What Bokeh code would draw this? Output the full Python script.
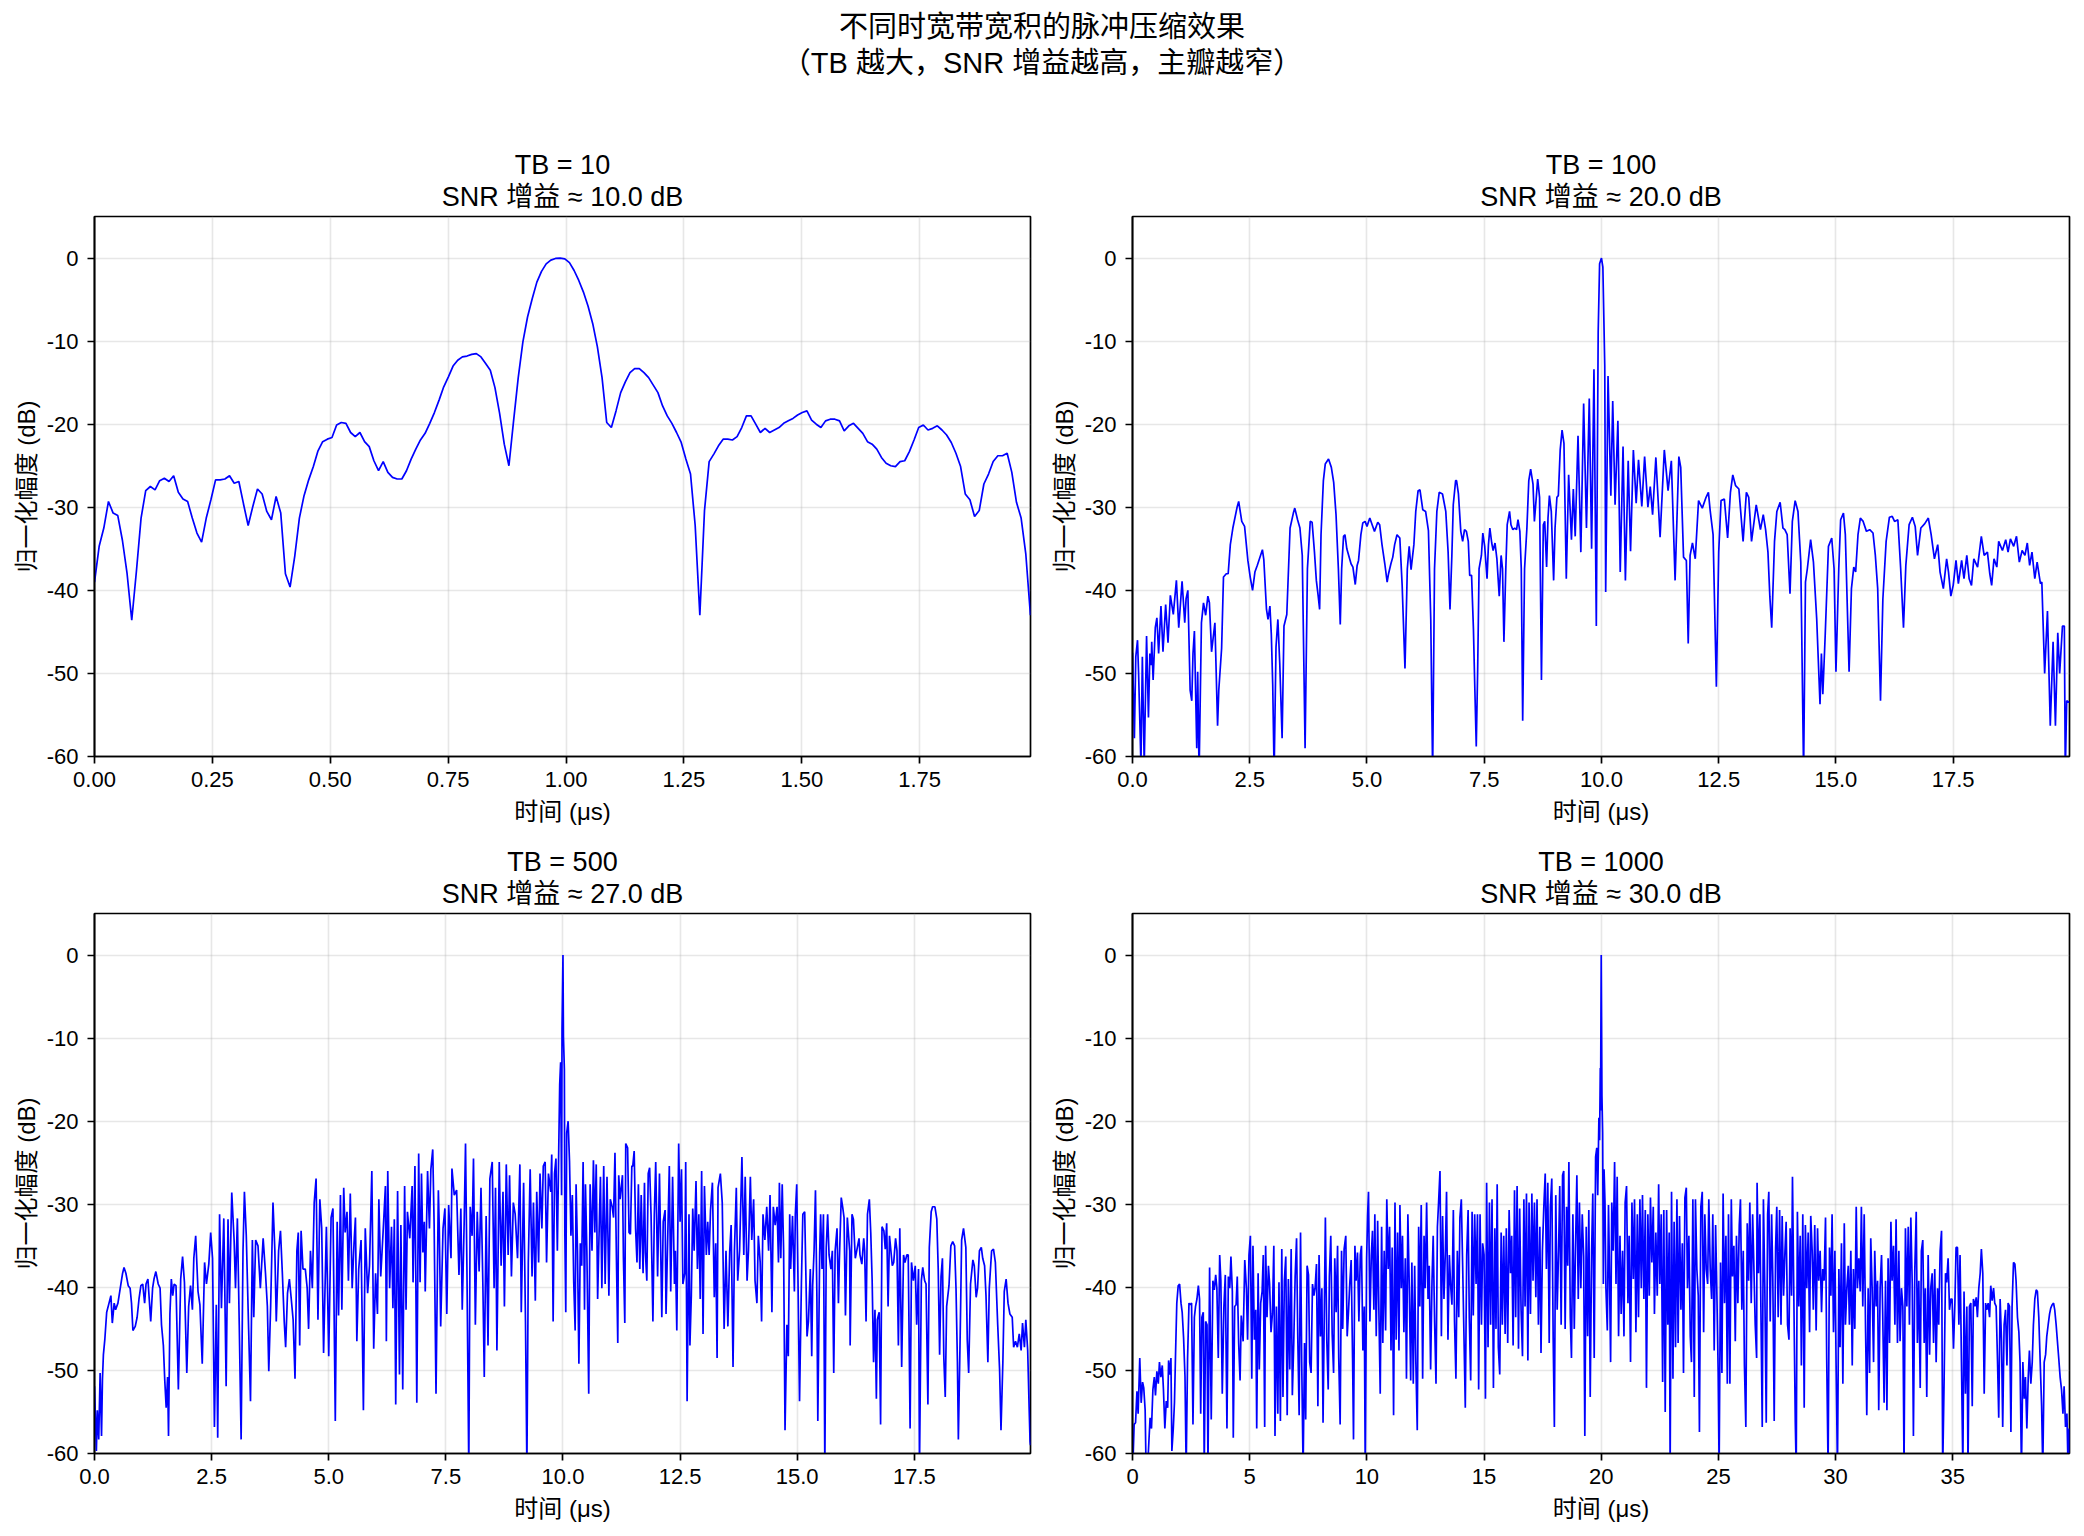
from bokeh.plotting import figure
from bokeh.layouts import column, row
from bokeh.models import Div, Range1d, FixedTicker, NumeralTickFormatter, Title
from bokeh.embed import file_html
from bokeh.resources import INLINE

FONT = "'Liberation Sans', 'Noto Sans CJK SC', sans-serif"

SUPTITLE_1 = "不同时宽带宽积的脉冲压缩效果"
SUPTITLE_2 = "（TB 越大，SNR 增益越高，主瓣越窄）"
XLABEL = "时间 (μs)"
YLABEL = "归一化幅度 (dB)"

TB_LABELS = ["TB = 10", "TB = 100", "TB = 500", "TB = 1000"]
GAIN_LABELS = ["SNR 增益 ≈ 10.0 dB", "SNR 增益 ≈ 20.0 dB", "SNR 增益 ≈ 27.0 dB", "SNR 增益 ≈ 30.0 dB"]

Y_TICKS = [-60, -50, -40, -30, -20, -10, 0]
X_TICKS_TB10 = [0.0, 0.25, 0.5, 0.75, 1.0, 1.25, 1.5, 1.75]
X_TICKS_TB100 = [0.0, 2.5, 5.0, 7.5, 10.0, 12.5, 15.0, 17.5]
X_TICKS_TB500 = [0.0, 2.5, 5.0, 7.5, 10.0, 12.5, 15.0, 17.5]
X_TICKS_TB1000 = [0, 5, 10, 15, 20, 25, 30, 35]
X_END = [1.985, 19.98, 19.98, 39.98]

tb10_dt = 0.009875
tb10_db = [
    -39.0, -34.7, -32.5, -29.3, -30.7, -31.0, -34.0, -38.0, -43.6, -37.7,
    -31.3, -28.0, -27.5, -27.9, -26.8, -26.5, -26.9, -26.2, -28.2, -29.0,
    -29.3, -31.3, -33.1, -34.2, -31.3, -29.1, -26.7, -26.7, -26.6, -26.2,
    -27.1, -26.9, -29.6, -32.2, -29.9, -27.8, -28.4, -30.5, -31.5, -28.7,
    -30.7, -38.0, -39.6, -35.9, -31.3, -28.6, -26.7, -25.1, -23.2, -22.1,
    -21.8, -21.6, -20.1, -19.8, -19.9, -21.0, -21.5, -21.0, -22.1, -22.7,
    -24.4, -25.6, -24.5, -25.8, -26.4, -26.6, -26.6, -25.6, -24.2, -23.0,
    -21.9, -21.1, -19.9, -18.6, -17.1, -15.5, -14.3, -13.0, -12.3, -11.9,
    -11.8, -11.6, -11.5, -11.9, -12.7, -13.5, -15.6, -18.7, -22.4, -25.0,
    -19.6, -14.4, -10.1, -7.1, -4.9, -2.9, -1.6, -0.7, -0.25, -0.05,
    0.0, -0.1, -0.55, -1.5, -2.7, -4.1, -5.8, -7.9, -10.7, -14.4,
    -19.8, -20.4, -18.4, -16.2, -14.9, -13.8, -13.3, -13.3, -13.8, -14.4,
    -15.3, -16.2, -17.8, -19.0, -19.9, -21.0, -22.2, -24.2, -26.0, -32.2,
    -43.0, -30.4, -24.5, -23.6, -22.6, -21.8, -21.8, -21.9, -21.5, -20.4,
    -19.0, -19.0, -20.0, -21.0, -20.5, -21.0, -20.7, -20.4, -19.9, -19.6,
    -19.3, -18.9, -18.6, -18.4, -19.5, -20.0, -20.4, -19.6, -19.4, -19.4,
    -19.6, -20.8, -20.2, -19.9, -20.5, -21.1, -22.1, -22.4, -23.0, -24.0,
    -24.7, -25.0, -25.1, -24.5, -24.4, -23.3, -21.9, -20.4, -20.1, -20.7,
    -20.5, -20.2, -20.7, -21.3, -22.2, -23.5, -25.1, -28.4, -29.1, -31.1,
    -30.4, -27.2, -26.0, -24.5, -23.8, -23.8, -23.5, -25.8, -29.4, -31.3,
    -35.6, -43.0,
]

# TB = 100 : (time µs, dB)
tb100_points = [
    (0.00, -47.5), (0.04, -57.8), (0.07, -48.0), (0.107, -46.0), (0.13, -50.0), (0.18, -61), (0.21, -48.0),
    (0.25, -61), (0.30, -45.5), (0.34, -55.3), (0.37, -47.6), (0.40, -49.0), (0.41, -46.2), (0.44, -50.8),
    (0.486, -44.5), (0.52, -43.3), (0.557, -47.6), (0.607, -41.9), (0.65, -47.4), (0.707, -41.7), (0.757, -46.3),
    (0.807, -40.6), (0.87, -42.9), (0.936, -38.8), (0.986, -44.5), (1.057, -38.9), (1.114, -43.9), (1.143, -41.0),
    (1.18, -40.0), (1.229, -52.0), (1.264, -53.3), (1.29, -47.6), (1.32, -44.9), (1.37, -59.0), (1.39, -49.8),
    (1.42, -62), (1.47, -43.9), (1.514, -41.5), (1.56, -43.0), (1.607, -40.7), (1.64, -41.5), (1.686, -47.4),
    (1.757, -43.9), (1.814, -56.3), (1.84, -52.0), (1.90, -47.0), (1.94, -38.4), (2.00, -38.0), (2.04, -38.0),
    (2.086, -34.5), (2.14, -32.5), (2.23, -30.0), (2.264, -29.3), (2.33, -31.7), (2.39, -32.3), (2.46, -36.4),
    (2.51, -38.4), (2.56, -40.0), (2.61, -37.8), (2.66, -37.0), (2.73, -35.8), (2.77, -35.1), (2.80, -36.3),
    (2.857, -42.3), (2.89, -43.5), (2.93, -41.9), (2.96, -45.3), (2.99, -51.4), (3.02, -62), (3.06, -46.8),
    (3.10, -43.5), (3.14, -48.8), (3.19, -57.8), (3.23, -44.3), (3.29, -42.9), (3.36, -32.5), (3.43, -30.7),
    (3.46, -30.1), (3.52, -31.5), (3.57, -32.5), (3.62, -35.8), (3.68, -59.0), (3.73, -37.4), (3.79, -31.7),
    (3.83, -31.8), (3.88, -35.4), (3.92, -38.8), (3.96, -40.7), (3.99, -42.3), (4.02, -33.3), (4.07, -26.8),
    (4.11, -24.8), (4.18, -24.2), (4.24, -25.2), (4.29, -27.0), (4.34, -30.9), (4.39, -37.4), (4.43, -44.1),
    (4.46, -37.4), (4.50, -33.5), (4.53, -33.3), (4.57, -35.0), (4.61, -35.8), (4.66, -36.8), (4.70, -37.2),
    (4.75, -39.3), (4.79, -37.0), (4.82, -36.4), (4.87, -33.3), (4.91, -31.9), (4.96, -31.7), (5.00, -32.3),
    (5.06, -31.3), (5.11, -32.1), (5.16, -32.9), (5.23, -31.8), (5.27, -32.1), (5.32, -34.5), (5.38, -36.8),
    (5.43, -39.0), (5.46, -38.0), (5.51, -36.8), (5.55, -36.0), (5.59, -34.5), (5.64, -33.3), (5.70, -33.7),
    (5.75, -39.4), (5.81, -49.4), (5.86, -37.4), (5.90, -34.7), (5.94, -37.5), (6.00, -34.5), (6.04, -30.5),
    (6.09, -28.0), (6.13, -27.9), (6.19, -30.3), (6.25, -30.5), (6.31, -32.8), (6.36, -43.5), (6.40, -62),
    (6.44, -37.4), (6.49, -30.5), (6.54, -28.2), (6.61, -28.4), (6.68, -30.5), (6.73, -35.4), (6.77, -42.3),
    (6.81, -35.8), (6.84, -29.7), (6.89, -26.8), (6.91, -26.8), (6.95, -28.4), (7.00, -32.9), (7.04, -34.1),
    (7.08, -32.7), (7.12, -32.9), (7.16, -34.1), (7.19, -38.2), (7.23, -38.2), (7.27, -44.7), (7.29, -49.6),
    (7.33, -58.8), (7.36, -49.6), (7.39, -37.4), (7.44, -35.8), (7.47, -33.1), (7.51, -34.7), (7.56, -38.6),
    (7.59, -34.5), (7.62, -32.5), (7.66, -34.3), (7.69, -35.2), (7.73, -34.3), (7.77, -36.2), (7.82, -40.7),
    (7.86, -35.8), (7.89, -37.4), (7.92, -46.2), (7.96, -37.4), (7.99, -32.1), (8.04, -30.5), (8.07, -32.1),
    (8.11, -32.7), (8.15, -32.5), (8.19, -32.7), (8.22, -31.5), (8.26, -32.9), (8.29, -37.4), (8.32, -55.7),
    (8.36, -37.4), (8.41, -32.5), (8.45, -26.8), (8.49, -25.4), (8.54, -27.2), (8.57, -31.7), (8.61, -28.8),
    (8.64, -26.6), (8.68, -28.8), (8.72, -50.8), (8.76, -32.1), (8.79, -31.7), (8.83, -37.2), (8.86, -31.3),
    (8.89, -28.6), (8.93, -30.5), (8.98, -38.8), (9.01, -32.5), (9.05, -28.8), (9.08, -28.6), (9.12, -23.1),
    (9.16, -20.7), (9.20, -22.3), (9.25, -38.6), (9.30, -26.1), (9.36, -33.9), (9.40, -27.8), (9.44, -33.5),
    (9.50, -21.4), (9.56, -35.4), (9.62, -17.5), (9.68, -32.5), (9.74, -16.9), (9.79, -35.0), (9.84, -13.4),
    (9.89, -44.3), (9.93, -8.9), (9.96, -0.7), (10.0, 0.0), (10.03, -1.1), (10.07, -13.0), (10.09, -40.2),
    (10.14, -14.2), (10.20, -28.6), (10.24, -17.2), (10.29, -29.7), (10.35, -19.6), (10.40, -37.8), (10.46, -22.7),
    (10.51, -38.8), (10.57, -24.4), (10.62, -35.3), (10.68, -23.1), (10.74, -29.5), (10.79, -24.3), (10.86, -29.9),
    (10.92, -23.9), (10.99, -30.0), (11.04, -27.5), (11.09, -30.9), (11.16, -24.0), (11.25, -33.6), (11.34, -23.1),
    (11.42, -28.0), (11.49, -24.4), (11.57, -38.8), (11.65, -23.9), (11.69, -25.2), (11.75, -36.0), (11.81, -36.4),
    (11.85, -46.4), (11.89, -35.8), (11.94, -34.3), (12.00, -36.2), (12.07, -29.2), (12.15, -30.1), (12.23, -28.8),
    (12.28, -28.2), (12.32, -30.5), (12.38, -33.3), (12.45, -51.6), (12.50, -35.4), (12.55, -29.2), (12.62, -29.0),
    (12.69, -33.7), (12.75, -28.2), (12.80, -26.1), (12.86, -27.4), (12.93, -27.8), (13.02, -34.1), (13.09, -28.2),
    (13.14, -28.8), (13.20, -34.1), (13.30, -29.7), (13.39, -32.7), (13.45, -30.9), (13.50, -32.7), (13.55, -35.4),
    (13.59, -40.7), (13.63, -44.5), (13.69, -34.1), (13.74, -30.5), (13.81, -29.4), (13.87, -32.5), (13.91, -32.7),
    (13.96, -33.3), (14.02, -40.4), (14.07, -31.7), (14.13, -29.2), (14.19, -30.5), (14.25, -36.6), (14.31, -62),
    (14.35, -39.0), (14.39, -37.4), (14.46, -33.9), (14.52, -36.6), (14.59, -43.5), (14.66, -53.7), (14.69, -47.6),
    (14.72, -52.5), (14.77, -45.5), (14.84, -34.7), (14.91, -33.7), (14.96, -37.4), (15.00, -49.8), (15.06, -37.4),
    (15.10, -31.5), (15.16, -30.7), (15.20, -33.3), (15.28, -49.8), (15.33, -39.8), (15.38, -37.2), (15.42, -37.8),
    (15.47, -33.3), (15.52, -31.3), (15.58, -31.7), (15.65, -32.9), (15.72, -32.7), (15.79, -33.1), (15.84, -35.8),
    (15.89, -39.8), (15.95, -53.3), (16.00, -41.1), (16.07, -34.1), (16.14, -31.2), (16.20, -31.1), (16.25, -31.7),
    (16.32, -31.5), (16.38, -37.4), (16.44, -44.5), (16.49, -37.0), (16.56, -32.1), (16.63, -31.2), (16.69, -32.3),
    (16.74, -35.8), (16.81, -32.5), (16.89, -32.0), (16.97, -31.3), (17.03, -33.3), (17.10, -36.2), (17.17, -34.5),
    (17.22, -37.8), (17.29, -39.8), (17.36, -36.2), (17.40, -37.8), (17.45, -40.7), (17.50, -39.4), (17.56, -36.4),
    (17.61, -39.2), (17.68, -36.4), (17.73, -38.6), (17.79, -35.8), (17.84, -38.6), (17.89, -39.4), (17.94, -36.2),
    (18.02, -37.2), (18.10, -33.5), (18.16, -35.8), (18.23, -35.4), (18.28, -38.0), (18.32, -39.4), (18.37, -36.2),
    (18.43, -37.2), (18.47, -34.1), (18.55, -35.2), (18.62, -33.9), (18.67, -35.4), (18.72, -33.8), (18.79, -34.7),
    (18.85, -33.5), (18.91, -36.6), (18.97, -35.2), (19.03, -35.8), (19.08, -34.3), (19.13, -37.0), (19.18, -35.4),
    (19.24, -38.6), (19.29, -36.6), (19.36, -39.2), (19.39, -39.0), (19.45, -50.0), (19.51, -42.5), (19.57, -56.3),
    (19.63, -46.2), (19.68, -56.3), (19.73, -45.1), (19.77, -50.0), (19.83, -44.3), (19.87, -44.3), (19.89, -62),
    (19.92, -53.3), (19.98, -53.5),
]

# TB = 500 : (time µs, dB)
tb500_points = [
    (0.00, -51.9), (0.04, -59.7), (0.06, -54.8), (0.09, -58.3), (0.12, -50.3), (0.15, -57.9), (0.17, -51.0),
    (0.19, -48.1), (0.22, -46.3), (0.26, -43.0), (0.31, -41.9), (0.35, -41.0), (0.38, -44.3), (0.42, -41.9),
    (0.45, -42.7), (0.50, -41.9), (0.55, -40.1), (0.60, -38.3), (0.63, -37.6), (0.67, -38.3), (0.72, -39.8),
    (0.76, -40.1), (0.79, -41.9), (0.82, -45.2), (0.87, -44.7), (0.91, -43.6), (0.95, -41.4), (0.99, -39.8),
    (1.03, -39.6), (1.07, -41.9), (1.10, -39.6), (1.14, -39.0), (1.20, -44.1), (1.24, -40.1), (1.27, -39.0),
    (1.31, -38.1), (1.36, -39.6), (1.40, -40.1), (1.43, -44.5), (1.47, -47.0), (1.50, -51.2), (1.53, -54.5),
    (1.56, -50.8), (1.58, -57.9), (1.61, -43.2), (1.64, -39.0), (1.67, -41.0), (1.70, -39.6), (1.74, -39.8),
    (1.79, -52.3), (1.84, -39.0), (1.88, -36.3), (1.92, -39.4), (1.97, -50.3), (2.01, -42.3), (2.05, -39.8),
    (2.09, -42.7), (2.12, -36.5), (2.16, -33.8), (2.21, -40.5), (2.25, -42.1), (2.30, -49.2), (2.35, -37.0),
    (2.39, -39.6), (2.44, -37.2), (2.48, -33.4), (2.52, -36.5), (2.56, -56.8), (2.60, -42.1), (2.63, -58.1),
    (2.67, -31.2), (2.71, -42.5), (2.76, -31.7), (2.81, -51.9), (2.85, -31.8), (2.88, -41.9), (2.93, -28.6),
    (2.98, -34.3), (3.01, -40.1), (3.05, -31.7), (3.09, -44.5), (3.13, -58.3), (3.17, -35.6), (3.20, -28.5),
    (3.24, -33.8), (3.29, -45.0), (3.33, -53.7), (3.37, -34.3), (3.40, -43.6), (3.44, -34.3), (3.49, -35.0),
    (3.54, -40.1), (3.60, -34.1), (3.65, -38.3), (3.69, -42.3), (3.72, -50.1), (3.76, -42.3), (3.81, -29.8),
    (3.85, -35.6), (3.88, -44.1), (3.93, -35.6), (3.97, -33.2), (4.01, -38.3), (4.05, -44.1), (4.08, -47.2),
    (4.12, -40.7), (4.16, -39.0), (4.20, -41.4), (4.24, -43.9), (4.28, -51.0), (4.32, -35.6), (4.35, -33.4),
    (4.38, -47.0), (4.41, -33.2), (4.45, -37.8), (4.50, -37.8), (4.54, -40.1), (4.57, -45.0), (4.61, -35.6),
    (4.65, -40.1), (4.69, -29.8), (4.73, -26.9), (4.77, -43.9), (4.81, -29.4), (4.85, -32.9), (4.89, -47.9),
    (4.95, -32.7), (5.00, -48.3), (5.05, -31.6), (5.09, -30.5), (5.14, -56.1), (5.18, -32.1), (5.21, -43.4),
    (5.25, -28.9), (5.28, -42.7), (5.32, -28.0), (5.35, -33.4), (5.39, -30.9), (5.42, -39.2), (5.46, -28.7),
    (5.50, -40.1), (5.54, -34.7), (5.57, -31.6), (5.60, -46.5), (5.64, -37.8), (5.69, -34.3), (5.74, -54.8),
    (5.78, -32.9), (5.83, -40.7), (5.87, -37.4), (5.92, -26.0), (5.96, -47.4), (6.00, -38.3), (6.04, -43.2),
    (6.07, -29.4), (6.11, -38.7), (6.16, -33.4), (6.21, -27.8), (6.23, -46.5), (6.26, -26.0), (6.30, -40.1),
    (6.34, -32.7), (6.37, -42.5), (6.40, -31.8), (6.43, -54.1), (6.47, -28.4), (6.51, -50.5), (6.54, -32.5),
    (6.58, -52.3), (6.62, -27.8), (6.65, -42.7), (6.68, -30.9), (6.73, -34.1), (6.78, -27.8), (6.80, -39.4),
    (6.84, -25.4), (6.88, -53.9), (6.92, -23.9), (6.95, -39.4), (6.98, -26.3), (7.01, -35.8), (7.04, -32.1),
    (7.06, -40.5), (7.11, -26.0), (7.15, -32.9), (7.18, -25.8), (7.22, -23.4), (7.25, -32.5), (7.29, -52.8),
    (7.34, -28.3), (7.36, -32.9), (7.39, -44.7), (7.44, -32.9), (7.48, -30.5), (7.52, -43.2), (7.56, -30.1),
    (7.61, -36.5), (7.63, -25.7), (7.68, -28.9), (7.73, -28.3), (7.78, -38.5), (7.82, -30.5), (7.85, -42.7),
    (7.89, -32.5), (7.92, -22.7), (7.95, -37.8), (7.99, -62.0), (8.02, -30.3), (8.06, -33.8), (8.09, -24.5),
    (8.13, -44.5), (8.17, -30.9), (8.21, -38.1), (8.25, -28.0), (8.29, -39.6), (8.32, -50.8), (8.36, -31.4),
    (8.40, -47.0), (8.44, -26.9), (8.49, -24.9), (8.53, -40.1), (8.56, -28.0), (8.59, -47.6), (8.64, -24.9),
    (8.68, -37.4), (8.72, -28.5), (8.75, -42.3), (8.79, -25.2), (8.83, -36.1), (8.86, -26.5), (8.90, -38.7),
    (8.94, -29.8), (8.98, -31.2), (9.03, -36.5), (9.08, -25.2), (9.11, -43.0), (9.16, -27.4), (9.20, -44.1),
    (9.23, -62.0), (9.26, -37.0), (9.30, -25.8), (9.34, -38.7), (9.37, -29.8), (9.41, -41.6), (9.44, -28.5),
    (9.48, -37.0), (9.51, -26.3), (9.55, -32.9), (9.58, -25.4), (9.62, -24.9), (9.65, -37.0), (9.69, -26.3),
    (9.74, -28.5), (9.76, -24.0), (9.79, -44.1), (9.82, -26.3), (9.85, -24.5), (9.88, -35.6), (9.91, -23.2),
    (9.93, -15.6), (9.95, -12.9), (9.97, -28.9), (9.98, -8.9), (10.00, 0.0), (10.01, -9.8), (10.03, -13.8),
    (10.04, -33.4), (10.06, -43.0), (10.08, -21.4), (10.11, -20.0), (10.14, -24.9), (10.17, -33.8), (10.20, -28.9),
    (10.23, -39.4), (10.26, -45.2), (10.28, -27.6), (10.31, -35.6), (10.34, -49.2), (10.37, -34.7), (10.40, -37.4),
    (10.43, -24.9), (10.46, -42.7), (10.48, -27.6), (10.51, -35.6), (10.55, -52.8), (10.58, -27.6), (10.62, -35.6),
    (10.65, -24.7), (10.68, -33.4), (10.71, -25.2), (10.74, -41.4), (10.78, -31.2), (10.80, -26.7), (10.83, -40.1),
    (10.87, -25.4), (10.90, -39.6), (10.94, -26.7), (10.98, -41.0), (11.01, -29.4), (11.05, -30.3), (11.08, -31.6),
    (11.11, -23.8), (11.14, -36.1), (11.17, -46.7), (11.19, -26.5), (11.22, -29.4), (11.27, -26.5), (11.29, -36.3),
    (11.32, -44.3), (11.34, -22.7), (11.38, -23.2), (11.41, -33.4), (11.44, -33.6), (11.47, -25.4), (11.49, -25.4),
    (11.52, -23.6), (11.55, -32.9), (11.58, -37.0), (11.61, -27.6), (11.64, -37.8), (11.67, -28.9), (11.71, -38.3),
    (11.74, -27.4), (11.76, -35.8), (11.79, -39.2), (11.82, -26.3), (11.85, -25.6), (11.88, -31.2), (11.92, -44.1),
    (11.95, -31.2), (11.98, -24.9), (12.02, -38.7), (12.06, -26.3), (12.11, -43.6), (12.14, -32.1), (12.18, -30.7),
    (12.20, -43.2), (12.23, -35.6), (12.27, -25.4), (12.30, -40.5), (12.34, -26.7), (12.38, -39.6), (12.40, -35.6),
    (12.43, -45.2), (12.47, -22.7), (12.50, -32.1), (12.53, -25.8), (12.56, -39.6), (12.60, -38.3), (12.62, -24.9),
    (12.65, -53.7), (12.69, -31.2), (12.71, -47.0), (12.74, -41.0), (12.77, -30.5), (12.80, -35.6), (12.84, -27.2),
    (12.87, -37.8), (12.90, -31.2), (12.93, -41.4), (12.96, -26.0), (12.99, -45.6), (13.02, -27.8), (13.06, -36.1),
    (13.09, -32.1), (13.12, -36.1), (13.15, -30.7), (13.19, -27.4), (13.23, -41.2), (13.26, -34.7), (13.29, -48.5),
    (13.31, -28.0), (13.36, -26.3), (13.40, -29.8), (13.44, -45.0), (13.48, -35.6), (13.52, -44.7), (13.56, -35.6),
    (13.59, -32.5), (13.63, -49.6), (13.66, -35.6), (13.70, -28.0), (13.73, -39.2), (13.77, -35.6), (13.82, -24.3),
    (13.86, -36.1), (13.89, -26.7), (13.93, -39.2), (13.96, -35.6), (14.00, -26.7), (14.03, -34.3), (14.07, -29.4),
    (14.10, -39.2), (14.14, -41.9), (14.17, -33.8), (14.21, -37.0), (14.24, -44.1), (14.27, -31.2), (14.31, -34.3),
    (14.35, -30.3), (14.39, -35.6), (14.42, -28.9), (14.46, -43.0), (14.49, -30.3), (14.53, -32.5), (14.57, -30.3),
    (14.60, -37.0), (14.62, -27.4), (14.65, -36.5), (14.68, -27.6), (14.71, -35.6), (14.74, -57.2), (14.78, -44.5),
    (14.81, -48.3), (14.84, -31.2), (14.86, -37.8), (14.90, -31.4), (14.94, -40.5), (14.96, -31.2), (14.99, -27.6),
    (15.02, -40.5), (15.05, -53.7), (15.09, -39.4), (15.12, -31.2), (15.16, -30.9), (15.21, -45.9), (15.24, -44.1),
    (15.28, -37.8), (15.31, -48.3), (15.33, -39.8), (15.36, -35.6), (15.39, -28.3), (15.42, -41.0), (15.44, -56.1),
    (15.48, -35.8), (15.50, -31.2), (15.53, -37.8), (15.56, -31.2), (15.59, -62.0), (15.62, -35.2), (15.65, -31.2),
    (15.68, -36.1), (15.72, -37.8), (15.75, -35.6), (15.78, -50.3), (15.81, -35.6), (15.85, -32.9), (15.88, -41.9),
    (15.90, -36.7), (15.94, -29.2), (15.97, -30.3), (16.00, -31.6), (16.03, -43.4), (16.07, -31.6), (16.12, -35.6),
    (16.13, -47.0), (16.17, -31.2), (16.20, -31.8), (16.24, -36.5), (16.27, -35.6), (16.32, -34.1), (16.34, -36.1),
    (16.38, -37.2), (16.42, -34.1), (16.44, -35.6), (16.47, -44.1), (16.50, -31.2), (16.54, -29.4), (16.57, -33.4),
    (16.60, -39.2), (16.63, -49.0), (16.66, -42.7), (16.69, -53.4), (16.71, -43.9), (16.75, -43.0), (16.78, -56.5),
    (16.81, -32.7), (16.85, -33.2), (16.88, -35.4), (16.91, -32.3), (16.94, -42.3), (16.97, -33.8), (17.00, -35.6),
    (17.03, -37.4), (17.06, -37.0), (17.10, -34.1), (17.13, -35.6), (17.16, -47.0), (17.19, -32.9), (17.23, -49.6),
    (17.27, -36.1), (17.30, -37.0), (17.34, -36.1), (17.37, -36.1), (17.41, -57.0), (17.44, -37.0), (17.48, -39.2),
    (17.52, -37.4), (17.55, -44.5), (17.59, -37.8), (17.61, -62.0), (17.65, -39.2), (17.68, -37.6), (17.72, -39.2),
    (17.75, -39.6), (17.79, -54.1), (17.82, -35.2), (17.86, -30.9), (17.89, -30.3), (17.94, -30.3), (17.98, -31.8),
    (18.01, -37.8), (18.04, -48.1), (18.07, -38.7), (18.10, -36.5), (18.13, -48.5), (18.16, -53.2), (18.19, -42.3),
    (18.24, -39.8), (18.28, -35.0), (18.32, -34.5), (18.36, -35.0), (18.39, -40.1), (18.42, -49.0), (18.44, -58.3),
    (18.48, -45.4), (18.51, -34.3), (18.55, -32.9), (18.60, -35.2), (18.63, -46.3), (18.66, -50.3), (18.70, -39.6),
    (18.75, -36.7), (18.78, -37.4), (18.82, -41.2), (18.85, -40.1), (18.89, -35.6), (18.93, -35.2), (18.96, -36.5),
    (19.00, -37.4), (19.03, -41.0), (19.07, -49.0), (19.10, -40.1), (19.15, -35.6), (19.19, -35.4), (19.23, -37.0),
    (19.28, -44.5), (19.32, -49.9), (19.35, -57.2), (19.39, -49.0), (19.42, -40.5), (19.46, -39.0), (19.50, -41.9),
    (19.54, -43.2), (19.59, -43.6), (19.62, -47.2), (19.66, -46.5), (19.70, -47.2), (19.74, -45.6), (19.78, -47.6),
    (19.81, -44.3), (19.85, -47.2), (19.88, -43.9), (19.92, -47.6), (19.95, -54.3), (19.97, -58.5), (19.98, -59.0),
]

# TB = 1000 : (time µs, dB)
tb1000_points = [
    (0.01, -62), (0.07, -56.5), (0.13, -56.3), (0.19, -52.5), (0.24, -55.2), (0.31, -48.5), (0.37, -53.9),
    (0.43, -51.4), (0.48, -52.1), (0.54, -54.8), (0.58, -62), (0.64, -62), (0.70, -58.5), (0.75, -55.7),
    (0.81, -57.0), (0.87, -52.3), (0.93, -50.8), (0.98, -53.0), (1.04, -50.1), (1.10, -51.6), (1.15, -49.0),
    (1.21, -50.8), (1.27, -49.4), (1.32, -52.3), (1.38, -57.0), (1.44, -53.7), (1.50, -54.5), (1.54, -48.8),
    (1.60, -50.5), (1.64, -48.5), (1.68, -59.7), (1.74, -57.0), (1.79, -53.9), (1.84, -47.6), (1.89, -41.9),
    (1.95, -39.8), (2.01, -39.6), (2.07, -41.9), (2.12, -43.0), (2.18, -46.1), (2.24, -50.8), (2.29, -62),
    (2.35, -48.5), (2.41, -41.9), (2.46, -42.1), (2.52, -41.9), (2.58, -56.5), (2.64, -43.6), (2.69, -42.3),
    (2.75, -41.4), (2.81, -39.8), (2.86, -41.4), (2.91, -55.2), (2.96, -43.6), (3.02, -43.0), (3.06, -62),
    (3.12, -44.1), (3.18, -44.5), (3.22, -62), (3.29, -37.6), (3.36, -55.9), (3.43, -39.2), (3.49, -40.3),
    (3.55, -38.5), (3.60, -40.1), (3.66, -48.5), (3.72, -36.1), (3.77, -39.2), (3.83, -52.8), (3.90, -42.3),
    (3.96, -38.5), (4.03, -57.0), (4.09, -38.7), (4.15, -40.1), (4.20, -36.3), (4.26, -40.5), (4.30, -58.1),
    (4.36, -42.3), (4.42, -42.1), (4.47, -38.7), (4.53, -46.7), (4.59, -51.2), (4.64, -43.4), (4.72, -46.5),
    (4.79, -36.7), (4.86, -40.1), (4.91, -46.3), (4.97, -36.1), (5.03, -33.8), (5.09, -51.0), (5.14, -35.0),
    (5.20, -46.3), (5.26, -42.7), (5.30, -57.0), (5.36, -38.3), (5.41, -49.9), (5.47, -41.9), (5.53, -40.5),
    (5.58, -36.1), (5.64, -56.8), (5.68, -35.0), (5.74, -43.6), (5.80, -37.4), (5.85, -39.6), (5.91, -45.4),
    (5.97, -43.2), (6.03, -35.0), (6.08, -57.9), (6.14, -42.3), (6.20, -55.2), (6.25, -39.4), (6.31, -56.1),
    (6.37, -35.4), (6.42, -53.2), (6.48, -39.2), (6.54, -36.3), (6.60, -55.4), (6.65, -39.0), (6.71, -49.9),
    (6.77, -35.4), (6.82, -53.0), (6.88, -46.7), (6.94, -38.7), (7.00, -34.1), (7.05, -45.6), (7.11, -55.4),
    (7.17, -33.4), (7.22, -49.0), (7.28, -62), (7.34, -46.7), (7.39, -55.9), (7.45, -37.4), (7.51, -38.5),
    (7.56, -49.0), (7.62, -50.3), (7.68, -39.6), (7.74, -41.0), (7.79, -40.1), (7.85, -37.2), (7.91, -54.3),
    (7.96, -36.1), (8.02, -45.9), (8.08, -40.1), (8.13, -56.3), (8.19, -41.6), (8.23, -31.6), (8.29, -46.3),
    (8.35, -52.3), (8.40, -38.7), (8.46, -33.8), (8.52, -45.6), (8.58, -50.3), (8.63, -36.5), (8.69, -43.0),
    (8.75, -35.0), (8.80, -48.5), (8.86, -56.5), (8.92, -35.6), (8.97, -45.0), (9.03, -35.4), (9.10, -33.8),
    (9.16, -45.9), (9.22, -42.7), (9.27, -39.6), (9.33, -36.7), (9.39, -48.5), (9.43, -58.3), (9.49, -35.0),
    (9.54, -39.2), (9.60, -35.8), (9.66, -44.1), (9.72, -36.1), (9.77, -35.0), (9.83, -47.6), (9.89, -42.3),
    (9.93, -62), (9.99, -36.5), (10.03, -31.4), (10.07, -28.5), (10.13, -44.1), (10.19, -36.1), (10.24, -33.2),
    (10.30, -42.7), (10.34, -31.2), (10.40, -45.9), (10.46, -32.0), (10.51, -42.3), (10.57, -52.8), (10.63, -32.7),
    (10.68, -46.7), (10.74, -35.6), (10.80, -45.2), (10.85, -29.4), (10.91, -37.8), (10.97, -32.7), (11.03, -47.6),
    (11.08, -35.2), (11.14, -55.4), (11.20, -29.8), (11.25, -46.3), (11.31, -33.4), (11.37, -47.6), (11.41, -30.1),
    (11.47, -40.1), (11.52, -33.8), (11.58, -45.4), (11.64, -36.5), (11.69, -51.0), (11.75, -31.2), (11.81, -40.1),
    (11.87, -51.2), (11.92, -37.0), (11.98, -51.6), (12.04, -37.4), (12.09, -49.0), (12.15, -57.2), (12.21, -32.7),
    (12.26, -42.3), (12.32, -30.1), (12.38, -51.0), (12.44, -33.8), (12.49, -40.1), (12.55, -29.8), (12.61, -41.4),
    (12.66, -37.4), (12.72, -49.9), (12.78, -39.2), (12.83, -33.8), (12.89, -44.1), (12.95, -51.6), (13.01, -32.7),
    (13.06, -29.8), (13.12, -26.0), (13.18, -45.9), (13.23, -31.4), (13.29, -41.4), (13.35, -35.6), (13.40, -28.5),
    (13.46, -46.3), (13.52, -36.1), (13.57, -39.6), (13.63, -42.1), (13.69, -30.7), (13.74, -44.1), (13.80, -51.0),
    (13.86, -35.6), (13.92, -43.6), (13.97, -31.6), (14.03, -29.4), (14.09, -37.8), (14.14, -45.4), (14.20, -54.5),
    (14.26, -36.1), (14.32, -30.7), (14.37, -43.6), (14.43, -51.2), (14.49, -30.9), (14.54, -43.4), (14.60, -31.2),
    (14.66, -39.6), (14.72, -31.2), (14.77, -52.3), (14.83, -31.2), (14.89, -44.5), (14.94, -34.7), (15.00, -36.1),
    (15.06, -53.4), (15.11, -27.4), (15.17, -47.2), (15.23, -29.8), (15.28, -44.5), (15.34, -29.4), (15.40, -52.1),
    (15.46, -32.9), (15.51, -45.0), (15.56, -27.6), (15.61, -47.2), (15.67, -50.5), (15.73, -33.4), (15.78, -44.5),
    (15.84, -33.8), (15.90, -45.6), (15.95, -32.9), (16.01, -46.7), (16.07, -30.7), (16.13, -38.3), (16.18, -33.8),
    (16.24, -47.0), (16.30, -28.3), (16.35, -43.6), (16.41, -27.8), (16.47, -47.4), (16.52, -30.5), (16.58, -42.7),
    (16.64, -48.3), (16.70, -29.4), (16.75, -42.3), (16.81, -28.7), (16.87, -48.8), (16.92, -29.8), (16.98, -43.2),
    (17.04, -28.7), (17.09, -39.2), (17.15, -29.8), (17.21, -41.2), (17.26, -29.4), (17.32, -44.5), (17.38, -32.7),
    (17.43, -47.9), (17.49, -35.6), (17.55, -30.3), (17.61, -26.3), (17.66, -37.8), (17.72, -27.4), (17.78, -46.7),
    (17.83, -30.3), (17.89, -26.9), (17.95, -46.3), (18.00, -56.8), (18.06, -28.9), (18.12, -42.7), (18.18, -35.6),
    (18.23, -27.8), (18.29, -44.5), (18.35, -26.5), (18.40, -26.0), (18.46, -45.0), (18.52, -30.3), (18.57, -37.4),
    (18.62, -24.9), (18.68, -43.6), (18.73, -48.5), (18.79, -31.2), (18.85, -45.0), (18.90, -35.6), (18.96, -26.5),
    (19.02, -41.4), (19.07, -29.8), (19.13, -40.1), (19.19, -31.2), (19.25, -36.3), (19.30, -57.9), (19.36, -32.7),
    (19.42, -45.9), (19.47, -30.7), (19.53, -53.2), (19.59, -35.6), (19.64, -28.7), (19.70, -48.5), (19.76, -24.3),
    (19.81, -23.2), (19.85, -28.9), (19.90, -19.6), (19.93, -22.3), (19.96, -13.6), (19.97, -18.7), (20.00, 0.0),
    (20.03, -16.9), (20.06, -21.4), (20.09, -39.6), (20.12, -25.8), (20.16, -29.8), (20.20, -40.1), (20.26, -45.2),
    (20.31, -30.1), (20.34, -35.6), (20.40, -49.0), (20.45, -29.8), (20.51, -35.6), (20.57, -24.9), (20.63, -39.6),
    (20.68, -26.7), (20.74, -45.9), (20.80, -33.8), (20.85, -43.2), (20.91, -35.6), (20.97, -45.9), (21.02, -29.8),
    (21.08, -27.8), (21.14, -41.9), (21.19, -33.8), (21.25, -49.0), (21.31, -29.8), (21.37, -39.0), (21.42, -29.4),
    (21.48, -45.4), (21.54, -31.2), (21.59, -43.6), (21.65, -29.4), (21.71, -40.1), (21.76, -28.9), (21.82, -41.4),
    (21.88, -30.7), (21.93, -52.1), (21.99, -31.2), (22.05, -41.0), (22.10, -29.2), (22.16, -37.0), (22.22, -30.3),
    (22.27, -43.2), (22.33, -33.4), (22.39, -41.0), (22.45, -27.6), (22.50, -39.6), (22.56, -31.2), (22.62, -51.4),
    (22.67, -30.7), (22.73, -55.0), (22.79, -30.7), (22.84, -44.5), (22.90, -33.4), (22.94, -62), (23.00, -28.5),
    (23.06, -51.0), (23.11, -32.1), (23.17, -47.2), (23.23, -29.4), (23.28, -46.7), (23.34, -31.4), (23.40, -42.7),
    (23.46, -34.7), (23.51, -50.3), (23.57, -29.2), (23.63, -28.0), (23.68, -40.1), (23.74, -33.8), (23.80, -45.9),
    (23.85, -49.0), (23.91, -29.4), (23.97, -53.2), (24.02, -29.4), (24.08, -37.8), (24.14, -41.0), (24.19, -57.4),
    (24.25, -30.3), (24.31, -28.5), (24.37, -45.4), (24.42, -31.2), (24.48, -37.8), (24.54, -39.6), (24.59, -29.4),
    (24.65, -37.8), (24.71, -41.4), (24.76, -31.2), (24.82, -47.6), (24.88, -32.5), (24.93, -40.1), (24.99, -50.3),
    (25.03, -62), (25.09, -37.0), (25.15, -50.3), (25.20, -28.7), (25.26, -41.9), (25.32, -33.8), (25.38, -51.6),
    (25.43, -31.2), (25.49, -51.6), (25.55, -29.4), (25.60, -38.7), (25.66, -35.0), (25.72, -46.5), (25.77, -33.8),
    (25.83, -41.9), (25.89, -32.5), (25.94, -29.4), (26.00, -42.7), (26.06, -35.6), (26.11, -49.4), (26.17, -56.8),
    (26.23, -32.3), (26.29, -39.2), (26.34, -29.8), (26.40, -41.9), (26.46, -31.2), (26.51, -37.2), (26.57, -44.5),
    (26.63, -48.5), (26.65, -27.4), (26.71, -38.3), (26.77, -31.2), (26.82, -44.5), (26.87, -56.8), (26.92, -29.4),
    (26.98, -40.1), (27.04, -56.3), (27.10, -31.2), (27.15, -28.5), (27.21, -44.1), (27.27, -31.2), (27.32, -38.7),
    (27.38, -56.1), (27.44, -35.2), (27.49, -30.3), (27.55, -43.6), (27.61, -30.7), (27.67, -44.5), (27.72, -31.4),
    (27.78, -41.0), (27.84, -35.6), (27.89, -32.1), (27.95, -44.5), (28.01, -46.3), (28.06, -32.9), (28.12, -41.0),
    (28.16, -26.7), (28.22, -41.6), (28.28, -56.3), (28.32, -62), (28.37, -30.9), (28.43, -42.3), (28.49, -33.8),
    (28.54, -49.4), (28.60, -31.2), (28.66, -54.5), (28.71, -32.5), (28.77, -40.1), (28.83, -33.4), (28.89, -45.4),
    (28.94, -31.4), (29.00, -35.6), (29.05, -42.7), (29.11, -32.5), (29.17, -45.2), (29.23, -32.9), (29.28, -39.2),
    (29.34, -35.6), (29.40, -43.0), (29.45, -37.8), (29.51, -39.2), (29.57, -31.6), (29.62, -48.5), (29.68, -62),
    (29.74, -35.2), (29.80, -41.0), (29.85, -31.2), (29.91, -45.4), (29.97, -35.6), (30.02, -49.0), (30.08, -62),
    (30.14, -37.8), (30.19, -47.2), (30.25, -34.7), (30.31, -51.6), (30.37, -32.3), (30.42, -44.5), (30.48, -40.1),
    (30.54, -37.4), (30.59, -44.5), (30.65, -35.6), (30.71, -49.4), (30.76, -37.8), (30.82, -45.0), (30.88, -30.3),
    (30.93, -40.1), (30.99, -36.5), (31.05, -40.5), (31.10, -30.3), (31.16, -42.3), (31.22, -31.2), (31.28, -45.4),
    (31.33, -55.4), (31.39, -40.1), (31.45, -50.3), (31.50, -34.1), (31.56, -40.1), (31.62, -49.0), (31.67, -35.6),
    (31.73, -42.3), (31.79, -39.2), (31.84, -54.8), (31.90, -40.1), (31.96, -36.1), (32.01, -43.2), (32.07, -53.9),
    (32.13, -39.2), (32.19, -54.8), (32.24, -36.5), (32.30, -46.7), (32.36, -32.1), (32.41, -39.2), (32.47, -35.0),
    (32.53, -44.5), (32.58, -31.8), (32.64, -46.7), (32.70, -35.6), (32.75, -46.5), (32.81, -40.1), (32.87, -42.3),
    (32.92, -62), (32.98, -32.9), (33.04, -42.3), (33.10, -32.7), (33.15, -44.5), (33.21, -31.6), (33.27, -39.6),
    (33.32, -57.9), (33.38, -37.8), (33.44, -30.9), (33.49, -46.7), (33.55, -39.2), (33.61, -52.1), (33.66, -35.6),
    (33.72, -34.3), (33.78, -46.7), (33.83, -40.1), (33.89, -53.2), (33.95, -36.1), (34.01, -48.1), (34.06, -40.1),
    (34.12, -38.3), (34.18, -46.7), (34.23, -37.8), (34.29, -49.0), (34.35, -40.1), (34.40, -44.5), (34.46, -35.6),
    (34.52, -33.2), (34.57, -62), (34.63, -51.2), (34.69, -38.3), (34.74, -39.4), (34.80, -36.5), (34.86, -42.7),
    (34.92, -41.4), (34.97, -41.4), (35.03, -47.4), (35.09, -41.9), (35.14, -35.2), (35.20, -35.2), (35.26, -44.5),
    (35.31, -36.1), (35.37, -49.0), (35.43, -62), (35.48, -40.5), (35.54, -52.8), (35.60, -42.3), (35.65, -62),
    (35.71, -42.3), (35.77, -41.9), (35.83, -54.3), (35.88, -41.4), (35.94, -42.3), (36.00, -41.2), (36.05, -43.6),
    (36.11, -40.1), (36.17, -38.3), (36.22, -35.4), (36.28, -38.3), (36.34, -52.8), (36.40, -41.9), (36.45, -42.7),
    (36.51, -41.9), (36.57, -43.6), (36.62, -39.8), (36.68, -41.6), (36.74, -40.1), (36.79, -41.9), (36.85, -42.3),
    (36.91, -49.0), (36.96, -55.7), (37.02, -41.4), (37.08, -46.5), (37.13, -56.8), (37.19, -44.5), (37.25, -42.7),
    (37.31, -49.4), (37.36, -41.9), (37.42, -42.3), (37.48, -57.4), (37.53, -42.3), (37.59, -37.0), (37.65, -37.2),
    (37.70, -39.2), (37.76, -43.6), (37.82, -45.4), (37.87, -49.0), (37.93, -62), (37.99, -49.0), (38.05, -53.4),
    (38.10, -50.8), (38.16, -57.0), (38.22, -50.8), (38.27, -47.6), (38.33, -51.6), (38.39, -49.0), (38.44, -44.5),
    (38.50, -41.4), (38.56, -40.3), (38.61, -40.5), (38.67, -43.6), (38.73, -49.0), (38.79, -54.3), (38.84, -62),
    (38.90, -49.0), (38.96, -48.1), (39.01, -45.9), (39.07, -44.5), (39.13, -43.2), (39.18, -42.5), (39.24, -42.1),
    (39.30, -41.9), (39.35, -42.7), (39.41, -44.5), (39.47, -46.7), (39.52, -48.5), (39.58, -50.8), (39.64, -52.3),
    (39.70, -55.2), (39.75, -51.9), (39.81, -56.8), (39.87, -55.2), (39.92, -62), (39.96, -57.0), (39.98, -60.0),
]

tb10_t = [i * tb10_dt for i in range(len(tb10_db))]
tb100_t = [p[0] for p in tb100_points]
tb100_db = [p[1] for p in tb100_points]
tb500_t = [p[0] for p in tb500_points]
tb500_db = [p[1] for p in tb500_points]
tb1000_t = [p[0] for p in tb1000_points]
tb1000_db = [p[1] for p in tb1000_points]


def make_panel(t, db, x_end, x_ticks, x_fmt, tb_label, gain_label,
               frame_w, b_left, b_right, b_top, b_bottom):
    p = figure(frame_width=frame_w, frame_height=540,
               min_border_left=b_left, min_border_right=b_right,
               min_border_top=b_top, min_border_bottom=b_bottom,
               x_range=Range1d(0, x_end), y_range=Range1d(-60, 5),
               title=tb_label, output_backend="svg", toolbar_location=None,
               background_fill_color="white", border_fill_color="white")
    # outer (upper) title line
    p.title.align = "center"
    p.title.text_font = FONT
    p.title.text_font_size = "27px"
    p.title.text_font_style = "normal"
    p.title.text_color = "black"
    p.title.standoff = -8
    # inner (lower) title line, next to the frame
    sub = Title(text=gain_label, align="center", text_font=FONT, text_font_size="27px",
                text_font_style="normal", text_color="black", standoff=9)
    p.add_layout(sub, "above")

    p.line(t, db, line_color="#0000ff", line_width=1.7)

    p.xaxis.ticker = FixedTicker(ticks=x_ticks)
    p.yaxis.ticker = FixedTicker(ticks=Y_TICKS)
    p.xaxis.formatter = NumeralTickFormatter(format=x_fmt)
    p.yaxis.formatter = NumeralTickFormatter(format="0")
    for ax in (p.xaxis[0], p.yaxis[0]):
        ax.axis_line_color = "black"
        ax.axis_line_width = 1.7
        ax.major_tick_line_color = "black"
        ax.major_tick_line_width = 1.7
        ax.major_tick_out = 7
        ax.major_tick_in = 0
        ax.minor_tick_line_color = None
        ax.major_label_text_font = FONT
        ax.major_label_text_font_size = "22px"
        ax.major_label_text_color = "black"
        ax.axis_label_text_font = FONT
        ax.axis_label_text_font_size = "24px"
        ax.axis_label_text_font_style = "normal"
        ax.axis_label_text_color = "black"
    p.xaxis.axis_label = XLABEL
    p.yaxis.axis_label = YLABEL
    p.xaxis.major_label_standoff = 8
    p.yaxis.major_label_standoff = 9
    p.xaxis.axis_label_standoff = 8
    p.yaxis.axis_label_standoff = 4
    p.grid.grid_line_color = "#b0b0b0"
    p.grid.grid_line_alpha = 0.3
    p.grid.grid_line_width = 1.6
    p.outline_line_color = "black"
    p.outline_line_width = 1.7
    p.outline_line_alpha = 1.0
    return p


p1 = make_panel(tb10_t, tb10_db, X_END[0], X_TICKS_TB10, "0.00", TB_LABELS[0], GAIN_LABELS[0],
                936, 94, 10, 70, 87)
p2 = make_panel(tb100_t, tb100_db, X_END[1], X_TICKS_TB100, "0.0", TB_LABELS[1], GAIN_LABELS[1],
                937, 92, 5, 70, 87)
p3 = make_panel(tb500_t, tb500_db, X_END[2], X_TICKS_TB500, "0.0", TB_LABELS[2], GAIN_LABELS[2],
                936, 94, 10, 70, 75)
p4 = make_panel(tb1000_t, tb1000_db, X_END[3], X_TICKS_TB1000, "0", TB_LABELS[3], GAIN_LABELS[3],
                937, 92, 5, 70, 75)

head = Div(text=(
    '<div style="width:2084px;text-align:center;font-family:' + FONT.replace("'", "&#39;") +
    ';font-size:29px;line-height:36px;color:black;margin:0;padding:9px 0 0 0;">'
    + SUPTITLE_1 + '<br>' + SUPTITLE_2 + '</div>'),
    width=2074, height=146, margin=0)

layout = column(head, row(p1, p2, spacing=0), row(p3, p4, spacing=0), spacing=0)

with open("out.html", "w", encoding="utf-8") as f:
    f.write(file_html(layout, INLINE, title="pulse compression"))
